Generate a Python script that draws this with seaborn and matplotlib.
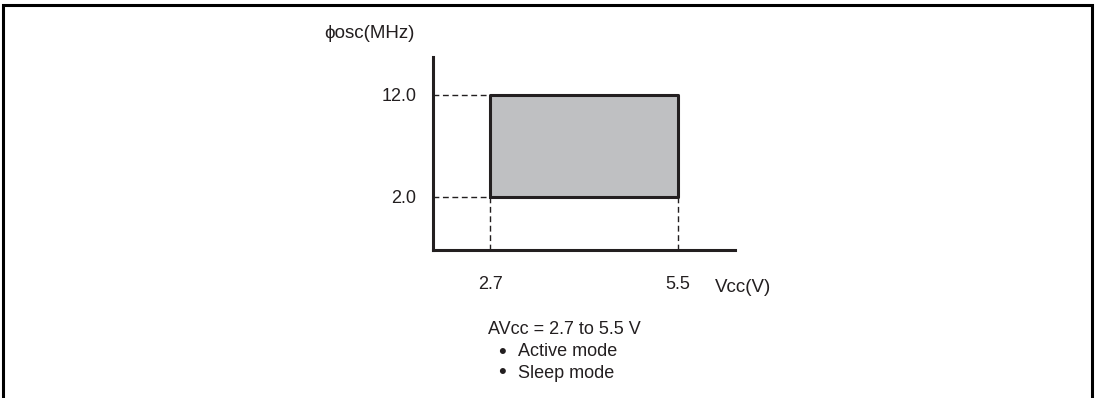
import matplotlib
matplotlib.use("Agg")
import matplotlib.pyplot as plt
import seaborn as sns
import pandas as pd
from matplotlib.patches import Rectangle

# operating range
vcc = [2.7, 5.5]
fosc = [2.0, 12.0]
vcc_ticks = ["2.7", "5.5"]
fosc_ticks = ["2.0", "12.0"]
note_title = "AVcc = 2.7 to 5.5 V"
note_items = ["Active mode", "Sleep mode"]

sns.set_style("white")
plt.rcParams['font.family'] = ['Liberation Sans', 'DejaVu Sans']

W, H = 1100, 398
ink = "#231f20"
fig = plt.figure(figsize=(11, 3.98), dpi=100)
ax = fig.add_axes([433 / W, 1 - 250 / H, 302 / W, 193 / H])

# outline of the range box
box = pd.DataFrame({
    "Vcc": [vcc[0], vcc[1], vcc[1], vcc[0], vcc[0]],
    "fosc": [fosc[0], fosc[0], fosc[1], fosc[1], fosc[0]],
})
ax.fill_between(vcc, fosc[0], fosc[1], color="#bfc0c2", lw=0, zorder=1)
sns.lineplot(data=box, x="Vcc", y="fosc", sort=False, color=ink,
             lw=2.2, ax=ax, zorder=3, estimator=None)

xmin, xmax = 1.851, 6.349
ymin, ymax = -3.196, 15.725

# dashed guides
dash = (0, (4.2, 2.6))
for f in fosc:
    ax.plot([xmin, vcc[0]], [f, f], ls=dash, color=ink, lw=1.0, zorder=2)
for v in vcc:
    ax.plot([v, v], [ymin, fosc[0]], ls=dash, color=ink, lw=1.0, zorder=2)

ax.set_xlim(xmin, xmax)
ax.set_ylim(ymin, ymax)
ax.set_xticks(vcc)
ax.set_xticklabels(vcc_ticks)
ax.set_yticks(fosc)
ax.set_yticklabels(fosc_ticks)
ax.tick_params(axis="x", length=0, pad=19, labelsize=13, colors=ink)
ax.tick_params(axis="y", length=0, pad=12, labelsize=13, colors=ink)
ax.set_xlabel("")
ax.set_ylabel("")
for s in ["top", "right"]:
    ax.spines[s].set_visible(False)
for s in ["left", "bottom"]:
    ax.spines[s].set_color(ink)
    ax.spines[s].set_linewidth(2.2)

fig.text(415 / W, 1 - 33 / H, "\u03d5osc(MHz)", ha="right", va="center",
         fontsize=13.5, color=ink)
fig.text(715 / W, 1 - 287 / H, "Vcc(V)", ha="left", va="center",
         fontsize=13.5, color=ink)

fig.text(488 / W, 1 - 330 / H, note_title, ha="left", va="center", fontsize=13, color=ink)
for i, item in enumerate(note_items):
    y = 1 - (352 + 21 * i) / H
    fig.text(498 / W, y, "\u2022", ha="left", va="center", fontsize=16, color=ink)
    fig.text(518 / W, y, item, ha="left", va="center", fontsize=13, color=ink)

# frame around the whole figure
fig.add_artist(Rectangle((3 / W, -0.02), 1089 / W, (H - 5) / H + 0.02,
                         transform=fig.transFigure, fill=False,
                         ec="#000000", lw=2.2))

fig.savefig("out.png", dpi=100)
